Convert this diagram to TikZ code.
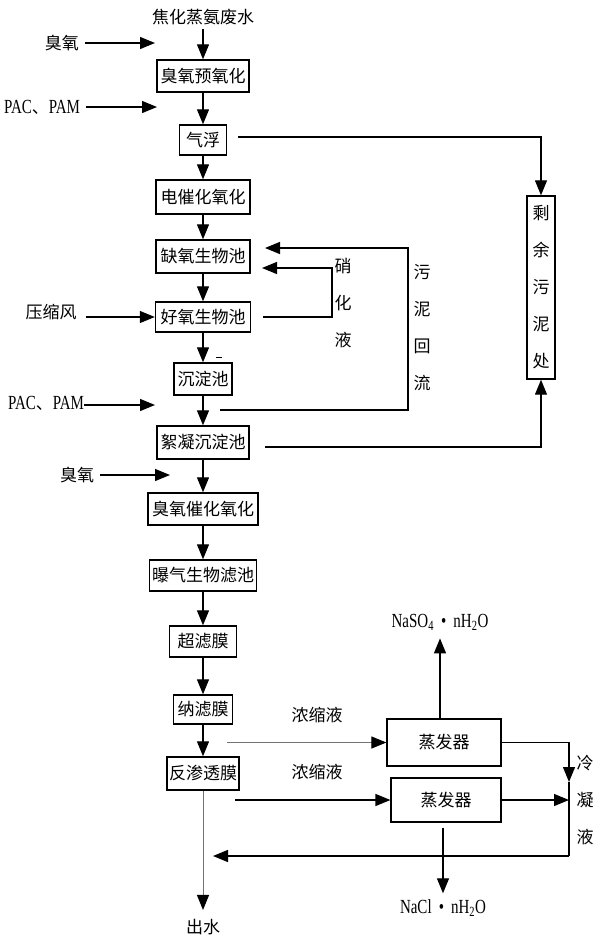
\documentclass[tikz,border=0pt]{standalone}
\usepackage{fontspec}
\setmainfont[FakeStretch=0.75]{Liberation Serif}
\newfontfamily\cjk{Noto Sans CJK SC}
\usetikzlibrary{arrows.meta}
\begin{document}
\begin{tikzpicture}[x=1pt,y=-1pt,
  box/.style={draw, line width=1.4pt, inner sep=0pt, font=\cjk\fontsize{17}{20}\selectfont},
  lab/.style={font=\cjk\fontsize{17}{20}\selectfont, inner sep=0pt},
  lat/.style={font=\fontsize{20}{22}\selectfont, inner sep=0pt},
  vlab/.style={font=\cjk\fontsize{17}{37}\selectfont, align=center, inner sep=0pt},
  arr/.style={line width=1.3pt, -{Triangle[length=15pt,width=12pt]}},
  ln/.style={line width=1.3pt},
  grey/.style={line width=1pt, black!55, -{Triangle[length=15pt,width=12pt,color=black]}}]
\useasboundingbox (0,0) rectangle (600,943);

% main column
\node[lab] (src) at (203,17) {焦化蒸氨废水};
\node[box,minimum width=92,minimum height=32] (b1) at (203,76) {臭氧预氧化};
\node[box,minimum width=47,minimum height=30] (b2) at (203,140) {气浮};
\node[box,minimum width=94,minimum height=34] (b3) at (203,197) {电催化氧化};
\node[box,minimum width=94,minimum height=33] (b4) at (203,256.5) {缺氧生物池};
\node[box,minimum width=95,minimum height=30] (b5) at (203,317) {好氧生物池};
\node[box,minimum width=58,minimum height=32] (b6) at (203,379) {沉淀池};
\node[box,minimum width=92,minimum height=33] (b7) at (203,442.5) {絮凝沉淀池};
\node[box,minimum width=110,minimum height=32] (b8) at (203,509) {臭氧催化氧化};
\node[box,minimum width=107,minimum height=31] (b9) at (203,575.5) {曝气生物滤池};
\node[box,minimum width=67,minimum height=31] (b10) at (203,641.5) {超滤膜};
\node[box,minimum width=59,minimum height=29] (b11) at (203,709.5) {纳滤膜};
\node[box,minimum width=72,minimum height=33] (b12) at (203,773.5) {反渗透膜};
\node[lab] (out) at (203,927) {出水};
\coordinate (d1) at (216,357); \coordinate (d2) at (222,357);
\draw[line width=1pt] (d1) -- (d2);

\draw[arr, shorten <=4pt] (src) -- (b1);
\draw[arr] (b1) -- (b2);
\draw[arr] (b2) -- (b3);
\draw[arr] (b3) -- (b4);
\draw[arr] (b4) -- (b5);
\draw[arr] (b5) -- (b6);
\draw[arr] (b6) -- (b7);
\draw[arr] (b7) -- (b8);
\draw[arr] (b8) -- (b9);
\draw[arr] (b9) -- (b10);
\draw[arr] (b10) -- (b11);
\draw[arr] (b11) -- (b12);
\draw[grey, shorten >=9pt] (b12) -- (out);

% left inputs
\node[lab] (o1) at (62,43) {臭氧};
\coordinate (o1s) at (85,43); \coordinate (o1t) at (155,43);
\draw[arr] (o1s) -- (o1t);
\node[lat] (p1) at (42,107) {PAC{\cjk\fontsize{17}{20}\selectfont 、}PAM};
\coordinate (p1s) at (86,107); \coordinate (p1t) at (157,107);
\draw[arr] (p1s) -- (p1t);
\node[lab] (air) at (51,312) {压缩风};
\coordinate (airs) at (86,317);
\draw[arr] (airs) -- (b5.west);
\node[lat] (p2) at (46,403) {PAC{\cjk\fontsize{17}{20}\selectfont 、}PAM};
\coordinate (p2s) at (84,405); \coordinate (p2t) at (155,405);
\draw[arr] (p2s) -- (p2t);
\node[lab] (o2) at (77,475) {臭氧};
\coordinate (o2s) at (100,475); \coordinate (o2t) at (170,475);
\draw[arr] (o2s) -- (o2t);

% sludge box
\node[box, vlab, minimum width=28, minimum height=183] (sl) at (541,287.5) {剩\\余\\污\\泥\\处};
\coordinate (s1) at (238,137); \coordinate (s2) at (541,137);
\draw[arr] (s1) -- (s2) -- (sl.north);
\coordinate (s3) at (265,447); \coordinate (s4) at (541,447);
\draw[arr] (s3) -- (s4) -- (sl.south);

% sludge return
\coordinate (r1) at (220,410); \coordinate (r2) at (408,410);
\coordinate (r3) at (408,248); \coordinate (r4) at (265,248);
\draw[arr] (r1) -- (r2) -- (r3) -- (r4);
\node[vlab] (ret) at (422,328) {污\\泥\\回\\流};

% nitrification liquid
\coordinate (n1) at (263,317); \coordinate (n2) at (332,317);
\coordinate (n3) at (332,268); \coordinate (n4) at (262,268);
\draw[arr] (n1) -- (n2) -- (n3) -- (n4);
\node[vlab] (nit) at (343,303.5) {硝\\化\\液};

% evaporators
\node[box, line width=1.2pt, minimum width=114, minimum height=47] (e1) at (444,742.5) {蒸发器};
\node[box, line width=1.2pt, minimum width=110, minimum height=44] (e2) at (446,800) {蒸发器};
\node[lab] (nc1) at (317,715) {浓缩液};
\node[lab] (nc2) at (317,772) {浓缩液};
\coordinate (c1) at (227,742.5);
\draw[grey] (c1) -- (e1.west);
\coordinate (c2) at (235,800);
\draw[arr] (c2) -- (e2.west);

\node[lat] (na2so4) at (440,622) {NaSO\textsubscript{4}\, • \,nH\textsubscript{2}O};
\node[lat] (nacl) at (443,908) {NaCl\, • \,nH\textsubscript{2}O};
\draw[arr, shorten >=8pt] (na2so4.south |- e1.north) -- (na2so4.south);
\draw[arr, shorten <=5pt, shorten >=6pt] (nacl.north |- e2.south) -- (nacl.north);

% condensate
\coordinate (k1) at (569,742.5); \coordinate (k2) at (569,782);
\coordinate (k3) at (569,856); \coordinate (k4) at (213,856);
\draw[arr] (e1.east) -- (k1) -- (k2);
\draw[ln] (k2) -- (k3);
\draw[arr] (k3) -- (k4);
\draw[arr] (e2.east) -- (e2.east -| k1);
\node[vlab] (cond) at (585,800.5) {冷\\凝\\液};
\end{tikzpicture}
\end{document}
